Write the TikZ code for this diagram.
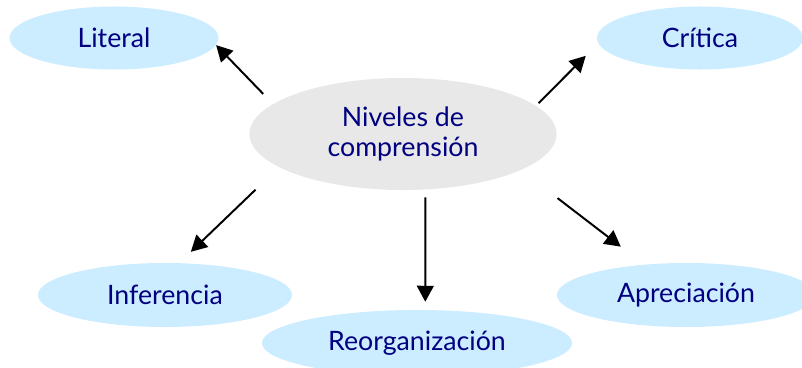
\documentclass[tikz,border=0pt]{standalone}
\usepackage{fontspec}
\setmainfont{Lato}
\usetikzlibrary{shapes.geometric,arrows.meta}

\definecolor{azulclaro}{HTML}{CCECFF}
\definecolor{grisclaro}{HTML}{E8E8E8}
\definecolor{azultexto}{HTML}{000080}

\begin{document}
\begin{tikzpicture}[x=0.025cm, y=-0.025cm,
		nivel/.style={ellipse, fill=azulclaro, inner sep=0pt, text=azultexto,
			font=\fontsize{19}{21.5}\selectfont},
		flecha/.style={-{Triangle[length=0.4cm,width=0.42cm]}, line width=1.4pt}]
	
	% --- Marco ---
	\path[use as bounding box, clip] (0,0) rectangle (802,368);
	
	% --- Nodo central ---
	\node[nivel, fill=grisclaro, align=center, minimum width=7.675cm, minimum height=2.8cm]
		(niveles) at (403,134) {Niveles de\\comprensión};
	
	% --- Niveles ---
	\node[nivel, minimum width=5.225cm, minimum height=1.575cm] (literal)     at (114,38)  {Literal};
	\node[nivel, minimum width=5.15cm,  minimum height=1.575cm] (critica)     at (700,38)  {Crítica};
	\node[nivel, minimum width=6.35cm,  minimum height=1.6cm]   (inferencia)  at (165,295) {Inferencia};
	\node[nivel, minimum width=7.75cm,  minimum height=1.65cm]  (reorg)       at (417,343) {Reorganización};
	\node[nivel, minimum width=6.45cm,  minimum height=1.6cm]   (apreciacion) at (686,295) {Apreciación};
	
	% --- Flechas ---
	\draw[flecha, shorten <=0.35cm] (niveles.167.6) -- (literal.-4.5);
	\draw[flecha, shorten <=0.09cm, shorten >=0.44cm] (niveles.12.1) -- (critica.-177.4);
	\draw[flecha, shorten <=0.81cm, shorten >=0.4cm] (niveles.-165.6) -- (inferencia.66.8);
	\draw[flecha, shorten <=0.19cm, shorten >=0.2cm] (niveles.-68.3) -- (reorg.76.4);
	\draw[flecha, shorten <=1.15cm, shorten >=0.73cm] (niveles.-17) -- (apreciacion.144.2);
	
\end{tikzpicture}
\end{document}
